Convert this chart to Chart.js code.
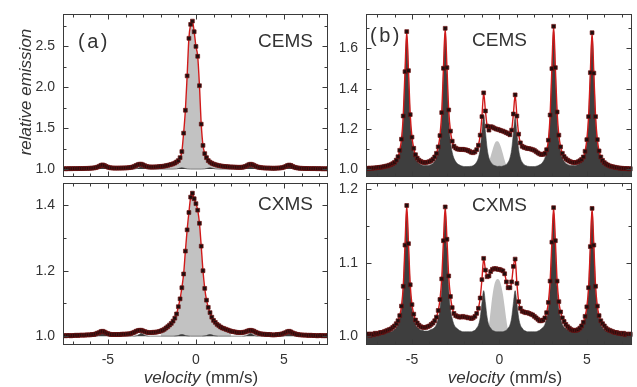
<!DOCTYPE html>
<html>
<head>
<meta charset="utf-8">
<script src="https://cdn.jsdelivr.net/npm/chart.js@4.4.1/dist/chart.umd.min.js"></script>
<style>
  html, body { margin: 0; padding: 0; background: #fff; }
  #wrap { position: relative; width: 637px; height: 387px; overflow: hidden; }
  canvas { position: absolute; }
</style>
</head>
<body>
<div id="wrap">
  <canvas id="aTop" width="340" height="182" style="left:0;top:0"></canvas>
  <canvas id="aBot" width="340" height="209" style="left:0;top:178px"></canvas>
  <canvas id="bTop" width="297" height="182" style="left:340px;top:0"></canvas>
  <canvas id="bBot" width="297" height="209" style="left:340px;top:178px"></canvas>
</div>
<script>
// velocity channels (mm/s), shared by all four spectra
const velocity = [
  -7.6, -7.5, -7.4, -7.3, -7.2, -7.1, -7.0, -6.9, -6.8, -6.7,
  -6.6, -6.5, -6.4, -6.3, -6.2, -6.1, -6.0, -5.9, -5.8, -5.7,
  -5.6, -5.5, -5.4, -5.3, -5.2, -5.1, -5.0, -4.9, -4.8, -4.7,
  -4.6, -4.5, -4.4, -4.3, -4.2, -4.1, -4.0, -3.9, -3.8, -3.7,
  -3.6, -3.5, -3.4, -3.3, -3.2, -3.1, -3.0, -2.9, -2.8, -2.7,
  -2.6, -2.5, -2.4, -2.3, -2.2, -2.1, -2.0, -1.9, -1.8, -1.7,
  -1.6, -1.5, -1.4, -1.3, -1.2, -1.1, -1.0, -0.9, -0.8, -0.7,
  -0.6, -0.5, -0.4, -0.3, -0.2, -0.1, 0.0, 0.1, 0.2, 0.3,
  0.4, 0.5, 0.6, 0.7, 0.8, 0.9, 1.0, 1.1, 1.2, 1.3,
  1.4, 1.5, 1.6, 1.7, 1.8, 1.9, 2.0, 2.1, 2.2, 2.3,
  2.4, 2.5, 2.6, 2.7, 2.8, 2.9, 3.0, 3.1, 3.2, 3.3,
  3.4, 3.5, 3.6, 3.7, 3.8, 3.9, 4.0, 4.1, 4.2, 4.3,
  4.4, 4.5, 4.6, 4.7, 4.8, 4.9, 5.0, 5.1, 5.2, 5.3,
  5.4, 5.5, 5.6, 5.7, 5.8, 5.9, 6.0, 6.1, 6.2, 6.3,
  6.4, 6.5, 6.6, 6.7, 6.8, 6.9, 7.0, 7.1, 7.2, 7.3,
  7.4, 7.5, 7.6
];

// (a) CEMS measured spectrum
const aCems = [
  1.004, 1.006, 1.004, 1.005, 1.006, 1.005, 1.006, 1.007, 1.006, 1.007,
  1.008, 1.007, 1.008, 1.009, 1.009, 1.010, 1.011, 1.012, 1.014, 1.018,
  1.024, 1.034, 1.046, 1.052, 1.045, 1.033, 1.024, 1.018, 1.015, 1.013,
  1.012, 1.012, 1.012, 1.013, 1.013, 1.014, 1.015, 1.016, 1.018, 1.021,
  1.026, 1.034, 1.044, 1.054, 1.060, 1.060, 1.052, 1.041, 1.033, 1.028,
  1.026, 1.025, 1.026, 1.027, 1.028, 1.030, 1.032, 1.034, 1.037, 1.041,
  1.046, 1.052, 1.058, 1.065, 1.074, 1.088, 1.105, 1.140, 1.215, 1.440,
  1.720, 2.140, 2.600, 2.770, 2.810, 2.680, 2.500, 2.380, 2.020, 1.550,
  1.290, 1.190, 1.140, 1.105, 1.085, 1.072, 1.062, 1.054, 1.048, 1.043,
  1.039, 1.036, 1.033, 1.031, 1.029, 1.027, 1.026, 1.025, 1.024, 1.023,
  1.022, 1.022, 1.023, 1.026, 1.032, 1.042, 1.054, 1.060, 1.056, 1.046,
  1.035, 1.027, 1.022, 1.018, 1.016, 1.014, 1.013, 1.012, 1.012, 1.011,
  1.011, 1.011, 1.012, 1.013, 1.015, 1.018, 1.024, 1.033, 1.044, 1.050,
  1.044, 1.032, 1.023, 1.017, 1.013, 1.011, 1.010, 1.009, 1.008, 1.008,
  1.007, 1.007, 1.006, 1.007, 1.006, 1.005, 1.006, 1.005, 1.004, 1.005,
  1.004, 1.005, 1.004
];

// (a) CXMS measured spectrum
const aCxms = [
  1.001, 1.002, 1.001, 1.002, 1.002, 1.001, 1.002, 1.002, 1.003, 1.002,
  1.003, 1.003, 1.003, 1.003, 1.004, 1.004, 1.004, 1.005, 1.005, 1.007,
  1.009, 1.011, 1.014, 1.015, 1.013, 1.010, 1.008, 1.006, 1.005, 1.005,
  1.005, 1.005, 1.005, 1.005, 1.006, 1.006, 1.006, 1.007, 1.007, 1.008,
  1.010, 1.012, 1.015, 1.017, 1.018, 1.018, 1.016, 1.014, 1.012, 1.011,
  1.011, 1.011, 1.012, 1.012, 1.013, 1.014, 1.016, 1.018, 1.021, 1.025,
  1.029, 1.034, 1.039, 1.046, 1.055, 1.068, 1.090, 1.114, 1.148, 1.190,
  1.260, 1.325, 1.378, 1.425, 1.437, 1.420, 1.405, 1.385, 1.345, 1.275,
  1.200, 1.146, 1.110, 1.088, 1.072, 1.058, 1.048, 1.042, 1.036, 1.032,
  1.028, 1.025, 1.023, 1.021, 1.019, 1.017, 1.015, 1.014, 1.013, 1.012,
  1.011, 1.011, 1.011, 1.012, 1.013, 1.015, 1.017, 1.018, 1.017, 1.015,
  1.012, 1.010, 1.008, 1.007, 1.006, 1.006, 1.005, 1.005, 1.005, 1.004,
  1.004, 1.004, 1.005, 1.005, 1.006, 1.007, 1.009, 1.011, 1.014, 1.015,
  1.013, 1.010, 1.008, 1.006, 1.005, 1.004, 1.004, 1.003, 1.003, 1.003,
  1.002, 1.003, 1.002, 1.002, 1.002, 1.001, 1.002, 1.002, 1.001, 1.002,
  1.001, 1.002, 1.001
];

// (a) singlet subspectrum (light grey)
const aSingletX = [
  -2.0, -1.9, -1.8, -1.7, -1.6, -1.5, -1.4, -1.3, -1.2, -1.1,
  -1.0, -0.9, -0.8, -0.7, -0.6, -0.5, -0.4, -0.3, -0.2, -0.1,
  0.0, 0.1, 0.2, 0.3, 0.4, 0.5, 0.6, 0.7, 0.8, 0.9,
  1.0, 1.1, 1.2, 1.3, 1.4, 1.5, 1.6, 1.7, 1.8, 1.9,
  2.0
];
const aCemsSinglet = [
  1.010, 1.011, 1.013, 1.015, 1.018, 1.022, 1.027, 1.034, 1.044, 1.058,
  1.078, 1.115, 1.195, 1.425, 1.705, 2.125, 2.585, 2.755, 2.795, 2.665,
  2.485, 2.365, 2.005, 1.535, 1.275, 1.172, 1.118, 1.080, 1.057, 1.043,
  1.034, 1.028, 1.023, 1.019, 1.016, 1.014, 1.012, 1.011, 1.010, 1.009,
  1.008
];
const aCxmsSinglet = [
  1.010, 1.012, 1.015, 1.019, 1.023, 1.028, 1.033, 1.040, 1.049, 1.062,
  1.083, 1.106, 1.140, 1.183, 1.253, 1.318, 1.371, 1.418, 1.430, 1.413,
  1.398, 1.378, 1.338, 1.268, 1.193, 1.139, 1.103, 1.081, 1.065, 1.051,
  1.041, 1.035, 1.029, 1.025, 1.021, 1.018, 1.016, 1.014, 1.012, 1.011,
  1.009
];

// (a) weak sextet subspectrum (dark grey)
const aSextetX = [
  -7.6,
  -5.8, -5.6, -5.5, -5.4, -5.3, -5.2, -5.1, -5.0, -4.8,
  -3.6, -3.4, -3.3, -3.2, -3.1, -3.0, -2.9, -2.8, -2.6,
  -1.3, -1.1, -1.0, -0.9, -0.8, -0.7, -0.6, -0.5, -0.3,
  0.3, 0.5, 0.6, 0.7, 0.8, 0.9, 1.0, 1.1, 1.3,
  2.6, 2.8, 2.9, 3.0, 3.1, 3.2, 3.3, 3.4, 3.6,
  4.8, 5.0, 5.1, 5.2, 5.3, 5.4, 5.5, 5.6, 5.8,
  7.6
];
const aCemsSextet = [
  1.000,
  1.000, 1.004, 1.010, 1.020, 1.028, 1.020, 1.010, 1.004, 1.000,
  1.000, 1.005, 1.011, 1.022, 1.030, 1.022, 1.011, 1.005, 1.000,
  1.000, 1.003, 1.007, 1.013, 1.018, 1.013, 1.007, 1.003, 1.000,
  1.000, 1.003, 1.007, 1.013, 1.018, 1.013, 1.007, 1.003, 1.000,
  1.000, 1.005, 1.011, 1.022, 1.030, 1.022, 1.011, 1.005, 1.000,
  1.000, 1.004, 1.010, 1.020, 1.028, 1.020, 1.010, 1.004, 1.000,
  1.000
];
const aCxmsSextet = [
  1.000,
  1.000, 1.001, 1.003, 1.006, 1.009, 1.006, 1.003, 1.001, 1.000,
  1.000, 1.001, 1.003, 1.006, 1.009, 1.006, 1.003, 1.001, 1.000,
  1.000, 1.001, 1.002, 1.004, 1.005, 1.004, 1.002, 1.001, 1.000,
  1.000, 1.001, 1.002, 1.004, 1.005, 1.004, 1.002, 1.001, 1.000,
  1.000, 1.001, 1.003, 1.006, 1.009, 1.006, 1.003, 1.001, 1.000,
  1.000, 1.001, 1.003, 1.006, 1.009, 1.006, 1.003, 1.001, 1.000,
  1.000
];

// (b) CEMS measured spectrum
const bCems = [
  1.006, 1.004, 1.007, 1.005, 1.008, 1.007, 1.009, 1.010, 1.011, 1.012,
  1.014, 1.016, 1.018, 1.021, 1.024, 1.029, 1.035, 1.046, 1.063, 1.095,
  1.150, 1.265, 1.485, 1.684, 1.490, 1.272, 1.160, 1.105, 1.073, 1.056,
  1.046, 1.040, 1.036, 1.034, 1.035, 1.036, 1.039, 1.044, 1.051, 1.062,
  1.080, 1.112, 1.168, 1.282, 1.502, 1.700, 1.505, 1.295, 1.190, 1.140,
  1.115, 1.106, 1.101, 1.100, 1.099, 1.100, 1.098, 1.097, 1.094, 1.090,
  1.085, 1.083, 1.087, 1.098, 1.120, 1.170, 1.262, 1.380, 1.290, 1.215,
  1.195, 1.212, 1.210, 1.205, 1.201, 1.199, 1.196, 1.192, 1.190, 1.186,
  1.182, 1.178, 1.172, 1.195, 1.275, 1.370, 1.265, 1.175, 1.132, 1.115,
  1.110, 1.107, 1.104, 1.103, 1.101, 1.098, 1.095, 1.088, 1.082, 1.077,
  1.074, 1.075, 1.080, 1.098, 1.145, 1.270, 1.500, 1.710, 1.505, 1.285,
  1.170, 1.112, 1.080, 1.064, 1.053, 1.046, 1.041, 1.037, 1.035, 1.034,
  1.035, 1.038, 1.043, 1.050, 1.062, 1.090, 1.148, 1.262, 1.480, 1.678,
  1.478, 1.262, 1.148, 1.092, 1.062, 1.045, 1.034, 1.027, 1.022, 1.018,
  1.015, 1.013, 1.011, 1.009, 1.008, 1.006, 1.006, 1.005, 1.004, 1.005,
  1.003, 1.004, 1.003
];
// (b) CEMS sextet subspectrum (dark grey)
const bCemsSextet = [
  1.005, 1.005, 1.005, 1.005, 1.006, 1.006, 1.007, 1.007, 1.007, 1.008,
  1.009, 1.010, 1.012, 1.014, 1.017, 1.021, 1.027, 1.037, 1.053, 1.083,
  1.135, 1.246, 1.464, 1.660, 1.464, 1.247, 1.137, 1.085, 1.055, 1.039,
  1.030, 1.025, 1.021, 1.020, 1.019, 1.020, 1.021, 1.025, 1.030, 1.040,
  1.057, 1.086, 1.140, 1.253, 1.474, 1.675, 1.474, 1.253, 1.140, 1.085,
  1.055, 1.039, 1.028, 1.023, 1.018, 1.016, 1.014, 1.014, 1.014, 1.015,
  1.016, 1.019, 1.026, 1.037, 1.058, 1.101, 1.188, 1.266, 1.188, 1.102,
  1.058, 1.037, 1.026, 1.020, 1.017, 1.015, 1.016, 1.015, 1.017, 1.020,
  1.025, 1.036, 1.056, 1.098, 1.180, 1.256, 1.180, 1.098, 1.056, 1.036,
  1.025, 1.019, 1.016, 1.015, 1.014, 1.014, 1.014, 1.016, 1.018, 1.023,
  1.028, 1.039, 1.056, 1.087, 1.142, 1.256, 1.481, 1.685, 1.481, 1.256,
  1.142, 1.087, 1.057, 1.040, 1.030, 1.025, 1.021, 1.020, 1.019, 1.020,
  1.021, 1.025, 1.030, 1.039, 1.055, 1.085, 1.137, 1.247, 1.464, 1.660,
  1.464, 1.246, 1.135, 1.083, 1.053, 1.037, 1.027, 1.021, 1.017, 1.014,
  1.012, 1.010, 1.009, 1.008, 1.007, 1.007, 1.007, 1.006, 1.006, 1.005,
  1.005, 1.005, 1.005
];
// (b) CEMS central singlet (light grey)
const bCemsSingletX = [-0.9, -0.8, -0.7, -0.6, -0.5, -0.4, -0.3, -0.2, -0.1, 0.0, 0.1, 0.2, 0.3, 0.4, 0.5, 0.6];
const bCemsSinglet = [1.000, 1.005, 1.015, 1.035, 1.065, 1.095, 1.122, 1.138, 1.140, 1.130, 1.108, 1.078, 1.045, 1.020, 1.006, 1.000];

// (b) CXMS measured spectrum
const bCxms = [
  1.002, 1.003, 1.001, 1.003, 1.002, 1.004, 1.003, 1.004, 1.005, 1.005,
  1.006, 1.007, 1.008, 1.009, 1.010, 1.012, 1.014, 1.017, 1.021, 1.028,
  1.041, 1.068, 1.124, 1.178, 1.126, 1.070, 1.043, 1.030, 1.022, 1.018,
  1.015, 1.013, 1.012, 1.012, 1.012, 1.013, 1.014, 1.016, 1.018, 1.021,
  1.026, 1.035, 1.050, 1.078, 1.130, 1.176, 1.132, 1.082, 1.054, 1.039,
  1.031, 1.028, 1.027, 1.026, 1.026, 1.027, 1.026, 1.026, 1.025, 1.025,
  1.024, 1.025, 1.027, 1.031, 1.038, 1.052, 1.077, 1.106, 1.090, 1.081,
  1.082, 1.088, 1.091, 1.092, 1.092, 1.091, 1.091, 1.090, 1.089, 1.085,
  1.074, 1.066, 1.066, 1.074, 1.095, 1.105, 1.072, 1.047, 1.038, 1.034,
  1.033, 1.032, 1.032, 1.031, 1.030, 1.029, 1.027, 1.025, 1.023, 1.021,
  1.021, 1.022, 1.025, 1.032, 1.046, 1.075, 1.128, 1.175, 1.130, 1.075,
  1.047, 1.033, 1.025, 1.020, 1.016, 1.013, 1.011, 1.009, 1.008, 1.008,
  1.008, 1.009, 1.011, 1.014, 1.019, 1.027, 1.040, 1.066, 1.122, 1.174,
  1.124, 1.068, 1.041, 1.028, 1.021, 1.017, 1.014, 1.011, 1.009, 1.008,
  1.007, 1.006, 1.005, 1.005, 1.004, 1.004, 1.003, 1.004, 1.002, 1.003,
  1.002, 1.003, 1.002
];
// (b) CXMS sextet subspectrum (dark grey)
const bCxmsSextet = [
  1.003, 1.003, 1.004, 1.004, 1.004, 1.004, 1.004, 1.004, 1.004, 1.004,
  1.004, 1.005, 1.005, 1.006, 1.006, 1.007, 1.009, 1.011, 1.016, 1.023,
  1.036, 1.064, 1.119, 1.169, 1.119, 1.065, 1.037, 1.024, 1.016, 1.012,
  1.010, 1.008, 1.008, 1.007, 1.007, 1.007, 1.008, 1.009, 1.010, 1.012,
  1.016, 1.024, 1.037, 1.065, 1.120, 1.168, 1.120, 1.065, 1.037, 1.024,
  1.016, 1.012, 1.010, 1.008, 1.007, 1.006, 1.006, 1.006, 1.006, 1.006,
  1.006, 1.007, 1.008, 1.011, 1.015, 1.025, 1.045, 1.062, 1.045, 1.025,
  1.015, 1.011, 1.008, 1.007, 1.006, 1.006, 1.006, 1.006, 1.006, 1.007,
  1.008, 1.011, 1.015, 1.025, 1.045, 1.062, 1.045, 1.025, 1.015, 1.011,
  1.008, 1.007, 1.006, 1.006, 1.006, 1.006, 1.006, 1.006, 1.007, 1.008,
  1.010, 1.012, 1.016, 1.024, 1.037, 1.065, 1.120, 1.168, 1.120, 1.065,
  1.037, 1.024, 1.016, 1.012, 1.010, 1.009, 1.008, 1.007, 1.007, 1.007,
  1.008, 1.008, 1.010, 1.012, 1.016, 1.024, 1.037, 1.065, 1.119, 1.169,
  1.119, 1.064, 1.036, 1.023, 1.016, 1.011, 1.009, 1.007, 1.006, 1.006,
  1.005, 1.005, 1.004, 1.004, 1.004, 1.004, 1.004, 1.004, 1.004, 1.004,
  1.004, 1.003, 1.003
];
// (b) CXMS central singlet (light grey)
const bCxmsSingletX = [-0.8, -0.7, -0.6, -0.5, -0.4, -0.3, -0.2, -0.1, 0.0, 0.1, 0.2, 0.3, 0.4, 0.5, 0.6, 0.7];
const bCxmsSinglet = [1.000, 1.004, 1.015, 1.035, 1.055, 1.069, 1.076, 1.078, 1.076, 1.069, 1.057, 1.040, 1.022, 1.008, 1.001, 1.000];

// tick positions
const xLabels = [-5, 0, 5];
const xTicks = [-7, -6, -5, -4, -3, -2, -1, 0, 1, 2, 3, 4, 5, 6, 7];
const aCemsYLabels = [1.0, 1.5, 2.0, 2.5];
const aCemsYMinor = [1.25, 1.75, 2.25, 2.75];
const aCxmsYLabels = [1.0, 1.2, 1.4];
const aCxmsYMinor = [1.1, 1.3];
const bCemsYLabels = [1.0, 1.2, 1.4, 1.6];
const bCemsYMinor = [1.1, 1.3, 1.5, 1.7];
const bCxmsYLabels = [1.0, 1.1, 1.2];
const bCxmsYMinor = [1.05, 1.15];

const FONT = "'Liberation Sans', Arial, Helvetica, sans-serif";
const INK = '#333';

const pts = (xs, ys) => xs.map((x, i) => ({ x: x, y: ys[i] }));

// frame, inward ticks and the text labels of a panel
const frame = {
  id: 'frame',
  afterDatasetsDraw(chart, args, o) {
    const { ctx, chartArea: a } = chart;
    const xs = chart.scales.x, ys = chart.scales.y;
    const L = Math.round(a.left) + 0.5, R = Math.round(a.right) - 0.5;
    const T = Math.round(a.top) + 0.5, B = Math.round(a.bottom) - 0.5;
    ctx.save();
    ctx.strokeStyle = '#3a3a3a';
    ctx.lineWidth = 1;
    ctx.beginPath();
    xTicks.forEach(v => {
      const p = Math.round(xs.getPixelForValue(v)) + 0.5;
      const len = xLabels.includes(v) ? 5 : 3;
      ctx.moveTo(p, B); ctx.lineTo(p, B - len);
      ctx.moveTo(p, T); ctx.lineTo(p, T + len);
    });
    o.yMajor.concat(o.yMinor).forEach(v => {
      const p = Math.round(ys.getPixelForValue(v)) + 0.5;
      const len = o.yMajor.includes(v) ? 5 : 3;
      ctx.moveTo(L, p); ctx.lineTo(L + len, p);
      ctx.moveTo(R, p); ctx.lineTo(R - len, p);
    });
    ctx.stroke();
    ctx.strokeRect(L, T, R - L, B - T);

    ctx.fillStyle = INK;
    (o.texts || []).forEach(t => {
      const parts = t.parts || [{ text: t.text, italic: t.italic }];
      const fontOf = p => (p.italic ? 'italic ' : '') + t.size + 'px ' + FONT;
      ctx.save();
      if ('letterSpacing' in ctx) ctx.letterSpacing = (t.spacing || 0) + 'px';
      ctx.translate(t.x, t.y);
      if (t.rotate) ctx.rotate(t.rotate);
      ctx.textBaseline = t.baseline || 'alphabetic';
      let total = 0;
      parts.forEach(p => { ctx.font = fontOf(p); total += ctx.measureText(p.text).width; });
      let cx = t.align === 'center' ? -total / 2 : 0;
      ctx.textAlign = 'left';
      parts.forEach(p => {
        ctx.font = fontOf(p);
        ctx.fillText(p.text, cx, 0);
        cx += ctx.measureText(p.text).width;
      });
      ctx.restore();
    });
    ctx.restore();
  }
};

function panel(id, o) {
  const datasets = [
    {
      data: pts(o.singletX, o.singlet),
      borderWidth: 0, borderColor: '#c2c2c2', backgroundColor: '#c2c2c2',
      pointRadius: 0, fill: o.fill, cubicInterpolationMode: 'monotone', order: 4, clip: 0
    },
    {
      data: pts(o.sextetX, o.sextet),
      borderWidth: 0.6, borderColor: '#3e3e3e', backgroundColor: '#3e3e3e',
      pointRadius: 0, fill: o.fill, cubicInterpolationMode: 'monotone', order: 3, clip: 0
    },
    {
      data: pts(velocity, o.spectrum),
      borderColor: '#d11a1a', borderWidth: 1.4, fill: false,
      cubicInterpolationMode: 'monotone',
      pointStyle: 'rect', pointRadius: 2.7,
      pointBackgroundColor: '#1f0e0e', pointBorderColor: '#701313', pointBorderWidth: 0.7,
      order: 1, clip: 0
    }
  ];

  const xAxis = {
    type: 'linear', min: o.xMin, max: o.xMax,
    display: o.bottom,
    grid: { display: false, drawTicks: false },
    border: { display: false },
    afterBuildTicks: s => { s.ticks = xLabels.map(v => ({ value: v })); },
    afterFit: s => { if (o.bottom) s.height = 42; s.paddingLeft = 0; s.paddingRight = 0; },
    ticks: { padding: 7, color: INK, font: { family: FONT, size: 14 }, maxRotation: 0, callback: v => String(v) }
  };
  const yAxis = {
    type: 'linear', min: o.yMin, max: o.yMax,
    grid: { display: false, drawTicks: false },
    border: { display: false },
    afterBuildTicks: s => { s.ticks = o.yMajor.map(v => ({ value: v })); },
    afterFit: s => { s.width = o.yWidth; s.paddingTop = 0; s.paddingBottom = 0; },
    ticks: { padding: 8, color: INK, font: { family: FONT, size: 14 }, callback: v => v.toFixed(1) }
  };

  return new Chart(document.getElementById(id), {
    type: 'line',
    data: { datasets },
    options: {
      responsive: false,
      maintainAspectRatio: false,
      devicePixelRatio: 1,
      animation: false,
      events: [],
      layout: { padding: { left: 0, top: o.padTop, right: o.padRight, bottom: o.padBottom } },
      scales: { x: xAxis, y: yAxis },
      plugins: {
        legend: { display: false },
        tooltip: { enabled: false },
        frame: { yMajor: o.yMajor, yMinor: o.yMinor, texts: o.texts }
      }
    },
    plugins: [frame]
  });
}

const velocityTitle = cx => ({
  parts: [{ text: 'velocity', italic: true }, { text: ' (mm/s)' }],
  x: cx, y: 205, size: 17, align: 'center'
});

panel('aTop', {
  spectrum: aCems, sextetX: aSextetX, sextet: aCemsSextet, singletX: aSingletX, singlet: aCemsSinglet,
  fill: { value: 1 }, xMin: -7.55, xMax: 7.5, yMin: 0.90, yMax: 2.897,
  yMajor: aCemsYLabels, yMinor: aCemsYMinor, yWidth: 63, bottom: false,
  padTop: 14, padRight: 12, padBottom: 2,
  texts: [
    { text: '(a)', x: 78, y: 48, size: 20, spacing: 2.5 },
    { text: 'CEMS', x: 258, y: 46.5, size: 19 },
    { text: 'relative emission', italic: true, x: 26.5, y: 92, size: 17, align: 'center', baseline: 'middle', rotate: -Math.PI / 2 }
  ]
});

panel('aBot', {
  spectrum: aCxms, sextetX: aSextetX, sextet: aCxmsSextet, singletX: aSingletX, singlet: aCxmsSinglet,
  fill: { value: 1 }, xMin: -7.55, xMax: 7.5, yMin: 0.973, yMax: 1.469,
  yMajor: aCxmsYLabels, yMinor: aCxmsYMinor, yWidth: 63, bottom: true,
  padTop: 2, padRight: 12, padBottom: 0,
  texts: [
    { text: 'CXMS', x: 258, y: 32, size: 19 },
    velocityTitle(201)
  ]
});

panel('bTop', {
  spectrum: bCems, sextetX: velocity, sextet: bCemsSextet, singletX: bCemsSingletX, singlet: bCemsSinglet,
  fill: 'start', xMin: -7.63, xMax: 7.6, yMin: 0.961, yMax: 1.771,
  yMajor: bCemsYLabels, yMinor: bCemsYMinor, yWidth: 26, bottom: false,
  padTop: 14, padRight: 4, padBottom: 2,
  texts: [
    { text: '(b)', x: 30, y: 42, size: 20, spacing: 2.5 },
    { text: 'CEMS', x: 132, y: 46, size: 19 }
  ]
});

panel('bBot', {
  spectrum: bCxms, sextetX: velocity, sextet: bCxmsSextet, singletX: bCxmsSingletX, singlet: bCxmsSinglet,
  fill: 'start', xMin: -7.63, xMax: 7.6, yMin: 0.988, yMax: 1.209,
  yMajor: bCxmsYLabels, yMinor: bCxmsYMinor, yWidth: 26, bottom: true,
  padTop: 2, padRight: 4, padBottom: 0,
  texts: [
    { text: 'CXMS', x: 132, y: 32.5, size: 19 },
    velocityTitle(165)
  ]
});
</script>
</body>
</html>
